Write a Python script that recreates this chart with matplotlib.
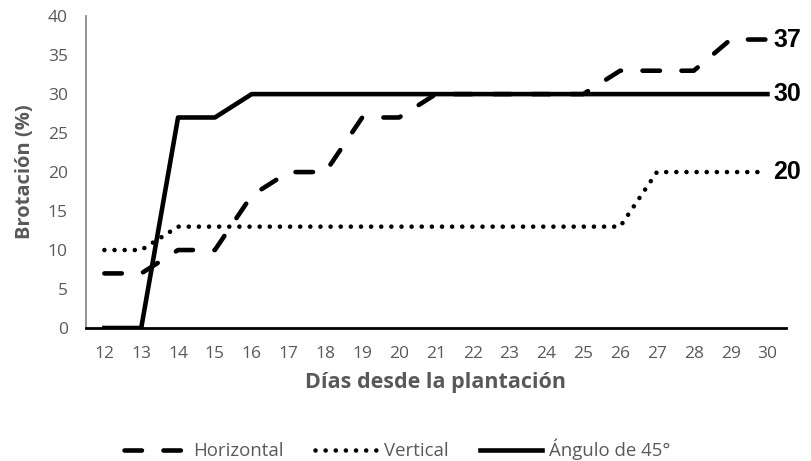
import matplotlib
matplotlib.use('Agg')
import matplotlib.pyplot as plt

# data
dias = list(range(12, 31))
horizontal = [7, 7, 10, 10, 17, 20, 20, 27, 27, 30, 30, 30, 30, 30, 33, 33, 33, 37, 37]
vertical = [10, 10, 13, 13, 13, 13, 13, 13, 13, 13, 13, 13, 13, 13, 13, 20, 20, 20, 20]
angulo45 = [0, 0, 27, 27, 30, 30, 30, 30, 30, 30, 30, 30, 30, 30, 30, 30, 30, 30, 30]
series_names = ['Horizontal', 'Vertical', 'Ángulo de 45°']

gray = '#595959'
plt.rcParams['font.family'] = ['Open Sans', 'DejaVu Sans']

fig = plt.figure(figsize=(8.11, 4.61), dpi=100)
ax = fig.add_axes([0.106, 0.2885, 0.863, 0.6765])

lw = 3.3
ax.plot(dias, horizontal, color='black', lw=lw, linestyle=(0, (3.8, 4.7)),
        dash_capstyle='round', solid_capstyle='round', label=series_names[0])
ax.plot(dias, vertical, color='black', lw=lw, linestyle=(0, (0.01, 2.2)),
        dash_capstyle='round', label=series_names[1])
ax.plot(dias, angulo45, color='black', lw=lw, linestyle='-', label=series_names[2])

# end labels
for vals in (horizontal, vertical, angulo45):
    ax.annotate(str(vals[-1]), (dias[-1], vals[-1]), xytext=(4, 0),
                textcoords='offset points', va='center', ha='left',
                fontsize=18, fontweight='bold', family='Liberation Sans',
                annotation_clip=False)

ax.set_xlim(11.5, 30.5)
ax.set_ylim(0, 40)
ax.set_xticks(dias)
ax.set_yticks(range(0, 41, 5))
ax.tick_params(length=0, labelsize=12.5, colors=gray)
ax.tick_params(axis='x', pad=13)
ax.tick_params(axis='y', pad=13)

for s in ('top', 'right'):
    ax.spines[s].set_visible(False)
ax.spines['left'].set_color('#808080')
ax.spines['left'].set_linewidth(1.2)
ax.spines['bottom'].set_color('black')
ax.spines['bottom'].set_linewidth(2)

ax.set_xlabel('Días desde la plantación', fontsize=15.5, fontweight='bold', color=gray, labelpad=7)
ax.set_ylabel('Brotación (%)', fontsize=14.5, fontweight='bold', color=gray, labelpad=9)

leg = fig.legend(loc='center', bbox_to_anchor=(0.49, 0.025), ncol=3, frameon=False,
                 fontsize=13.4, handlelength=3.3, columnspacing=1.7, handletextpad=0.4)
for t in leg.get_texts():
    t.set_color(gray)

fig.savefig('out.png', dpi=100)
